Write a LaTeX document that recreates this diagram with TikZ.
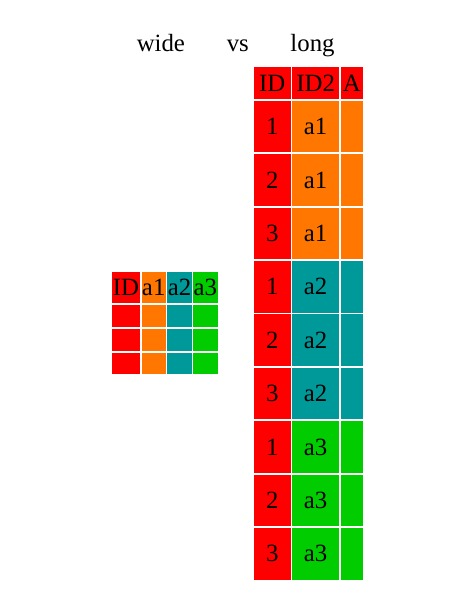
\documentclass[tikz,border=0pt]{standalone}
\usepackage{fontspec}
\setmainfont{Liberation Serif}
\definecolor{cRed}{HTML}{FF0000}
\definecolor{cG1}{HTML}{FF7700}
\definecolor{cG2}{HTML}{009999}
\definecolor{cG3}{HTML}{00CC00}
\begin{document}
\begin{tikzpicture}[x=1pt,y=-1pt,
  cell/.style={anchor=north west, inner sep=0pt, outer sep=0pt, draw=none,
    font=\fontsize{24.8}{28}\selectfont, text=black},
  title/.style={anchor=base, inner sep=0pt, font=\fontsize{24.8}{28}\selectfont}]
\useasboundingbox[fill=white] (0,0) rectangle (473,605);
% titles
\node[title] (wide) at (160.9,51) {wide};
\node[title] (vs) at (237.8,51) {vs};
\node[title] (long) at (312.5,51) {long};
% long table header
\foreach \c/\x/\w/\t in {1/253.7/37/ID, 2/292.3/46.7/ID2, 3/340.7/22.3/A}
  \node[cell, fill=cRed, minimum width=\w pt, minimum height=31.7pt] (LH\c) at (\x,67.3) {\makebox[0pt]{\t}};
% long table body
\foreach \r in {0,...,8} {
  \pgfmathsetmacro\ty{100.7+53.4*\r}
  \pgfmathtruncatemacro\id{mod(\r,3)+1}
  \pgfmathtruncatemacro\g{div(\r,3)+1}
  \node[cell, fill=cRed, minimum width=37pt, minimum height=51.7pt] (L\r-1) at (253.7,\ty) {\makebox[0pt]{\id}};
  \node[cell, fill=cG\g, minimum width=46.7pt, minimum height=51.7pt] (L\r-2) at (292.3,\ty) {\makebox[0pt]{a\g}};
  \node[cell, fill=cG\g, minimum width=22.3pt, minimum height=51.7pt] (L\r-3) at (340.7,\ty) {};
}
% wide table
\foreach \c/\x/\w/\t/\col in {1/112/28/ID/cRed, 2/141.7/24/a1/cG1, 3/167.3/24.4/a2/cG2, 4/193/24.7/a3/cG3} {
  \node[cell, fill=\col, minimum width=\w pt, minimum height=31pt] (WH\c) at (\x,272) {\makebox[0pt]{\t}};
  \foreach \r/\y in {1/305.3, 2/329, 3/352.7}
    \node[cell, fill=\col, minimum width=\w pt, minimum height=21.7pt] (W\r-\c) at (\x,\y) {};
}
\end{tikzpicture}
\end{document}
